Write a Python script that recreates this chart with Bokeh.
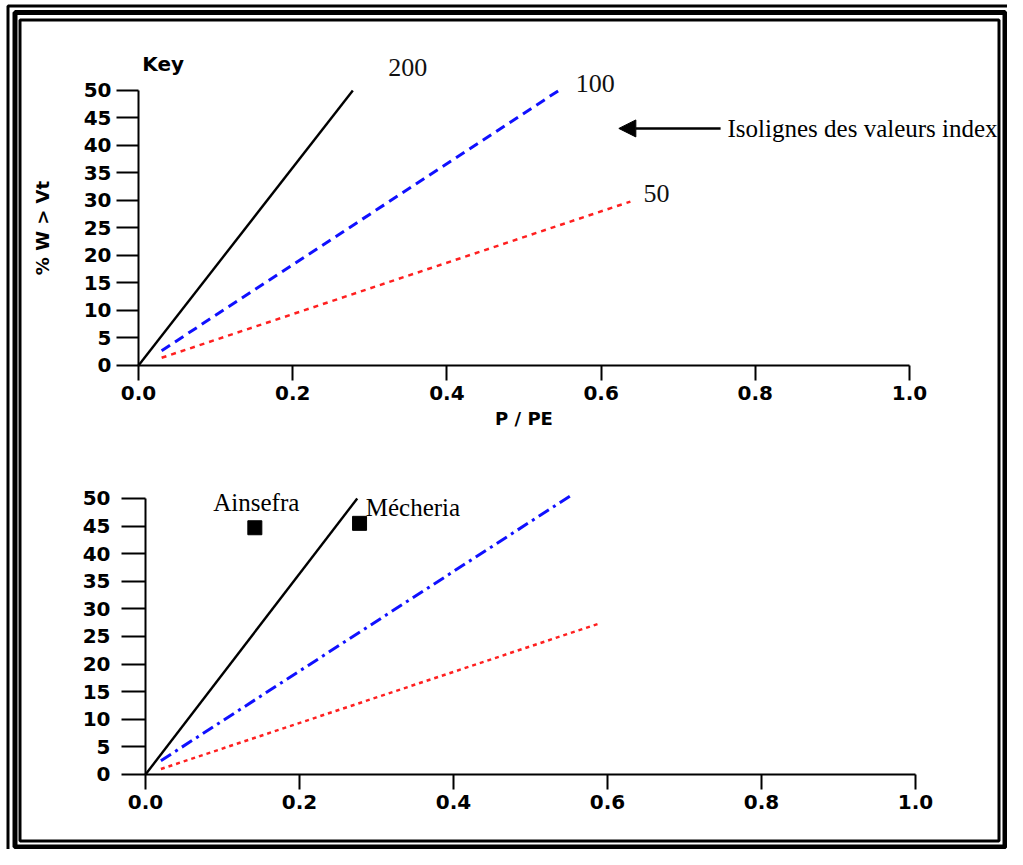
from bokeh.plotting import figure
from bokeh.models import (Range1d, FixedTicker, PrintfTickFormatter, Label, Arrow, NormalHead,
                          LinearAxis, BoxAnnotation)
from bokeh.embed import file_html
from bokeh.resources import INLINE

# ---------------- data ----------------
x_ticks = [0.0, 0.2, 0.4, 0.6, 0.8, 1.0]
y_ticks = [0, 5, 10, 15, 20, 25, 30, 35, 40, 45, 50]

# top panel: isolines of index values 200 / 100 / 50
top_200_x = [0.0, 0.278]
top_200_y = [0.0, 50.0]
top_100_x = [0.03, 0.545]
top_100_y = [2.7, 50.0]
top_50_x = [0.03, 0.638]
top_50_y = [1.4, 29.8]

# bottom panel: same isolines + stations
bot_200_x = [0.0, 0.275]
bot_200_y = [0.0, 50.0]
bot_100_x = [0.02, 0.552]
bot_100_y = [2.5, 50.5]
bot_50_x = [0.02, 0.588]
bot_50_y = [1.0, 27.3]

stations = ["Ainsefra", "Mécheria"]
station_x = [0.142, 0.278]
station_y = [44.7, 45.5]

iso_labels = ["200", "100", "50"]

SANS = "DejaVu Sans"
SERIF = "Liberation Serif"
W, H = 1007, 849

p = figure(width=W, height=H, output_backend="svg", toolbar_location=None,
           x_range=Range1d(0, W), y_range=Range1d(H, 0),
           x_axis_type=None, y_axis_type=None, min_border=0,
           background_fill_color="white", border_fill_color="white",
           outline_line_color=None)

# panel scales (extra ranges spanning the whole canvas)
p.extra_x_ranges = {
    "tx": Range1d(-0.178988, 1.127108),
    "bx": Range1d(-0.188312, 1.119481),
}
p.extra_y_ranges = {
    "ty": Range1d(-88.0, 66.3636),
    "by": Range1d(-13.587, 140.2174),
}

# ---------------- double frame ----------------
for l, t, r, b, lw in [(7.5, 5.5, 1015, 860, 3), (14.5, 12, 1004.5, 846.5, 5),
                       (19.5, 19.5, 998.5, 840.5, 3)]:
    p.add_layout(BoxAnnotation(left=l, right=r, top=t, bottom=b, fill_alpha=0,
                               line_color="black", line_width=lw, line_alpha=1))


def make_axes(xr, yr, ytick_out, ystand, xlabel=None, ylabel=None):
    xa = LinearAxis(x_range_name=xr, y_range_name=yr, fixed_location=0, bounds=(0, 1.0),
                    ticker=FixedTicker(ticks=x_ticks),
                    formatter=PrintfTickFormatter(format="%.1f"))
    ya = LinearAxis(x_range_name=xr, y_range_name=yr, fixed_location=0, bounds=(0, 50),
                    ticker=FixedTicker(ticks=y_ticks))
    for ax in (xa, ya):
        ax.axis_line_width = 2
        ax.axis_line_color = "black"
        ax.major_tick_line_width = 2
        ax.major_tick_line_color = "black"
        ax.major_tick_in = 0
        ax.minor_tick_line_color = None
        ax.major_label_text_font = SANS
        ax.major_label_text_font_style = "bold"
        ax.major_label_text_font_size = "20px"
        ax.major_label_text_color = "black"
        ax.axis_label_text_font = SANS
        ax.axis_label_text_font_style = "bold"
        ax.axis_label_text_font_size = "18px"
        ax.axis_label_text_color = "black"
    xa.major_tick_out = 15
    ya.major_tick_out = ytick_out
    xa.major_label_standoff = 6
    ya.major_label_standoff = ystand
    if xlabel:
        xa.axis_label = xlabel
        xa.axis_label_standoff = 4
    if ylabel:
        ya.axis_label = ylabel
        ya.axis_label_standoff = 28
    p.add_layout(xa, "below")
    p.add_layout(ya, "left")


# ---------------- top panel ----------------
make_axes("tx", "ty", 22, 5, xlabel="P / PE", ylabel="% W > Vt")
T = dict(x_range_name="tx", y_range_name="ty")
p.line(top_200_x, top_200_y, line_color="black", line_width=2.4, **T)
p.line(top_100_x, top_100_y, line_color="#1010ff", line_width=3, line_dash="10 6", **T)
p.line(top_50_x, top_50_y, line_color="#ff2020", line_width=2.5, line_dash="5 5", **T)

p.add_layout(Label(x=0.005, y=54.8, text="Key", text_font=SANS, text_font_style="bold",
                   text_font_size="20px", text_baseline="middle", text_align="left",
                   text_color="black", **T))
iso_pos = [(0.324, 54.2), (0.567, 51.3), (0.655, 31.3)]
for txt, (lx, ly) in zip(iso_labels, iso_pos):
    p.add_layout(Label(x=lx, y=ly, text=txt, text_font=SERIF, text_font_size="26px",
                       text_baseline="middle", text_align="left", text_color="#111111", **T))
p.add_layout(Arrow(end=NormalHead(size=17, fill_color="black", line_color="black"),
                   x_start=0.755, y_start=43.1, x_end=0.623, y_end=43.1,
                   line_width=2.5, line_color="black", **T))
p.add_layout(Label(x=0.764, y=43.1, text="Isolignes des valeurs index", text_font=SERIF,
                   text_font_size="25px", text_baseline="middle", text_align="left",
                   text_color="black", **T))

# ---------------- bottom panel ----------------
make_axes("bx", "by", 24, 11)
B = dict(x_range_name="bx", y_range_name="by")
p.line(bot_200_x, bot_200_y, line_color="black", line_width=2.4, **B)
p.line(bot_100_x, bot_100_y, line_color="#1010ff", line_width=3, line_dash="12 5 3 5", **B)
p.line(bot_50_x, bot_50_y, line_color="#ff2020", line_width=2.5, line_dash="4 4", **B)
p.scatter(station_x, station_y, marker="square", size=14, color="black", **B)

st_pos = [(0.088, 49.3), (0.286, 48.4)]
for txt, (lx, ly) in zip(stations, st_pos):
    p.add_layout(Label(x=lx, y=ly, text=txt, text_font=SERIF, text_font_size="25px",
                       text_baseline="middle", text_align="left", text_color="black", **B))

open("out.html", "w").write(file_html(p, INLINE))
